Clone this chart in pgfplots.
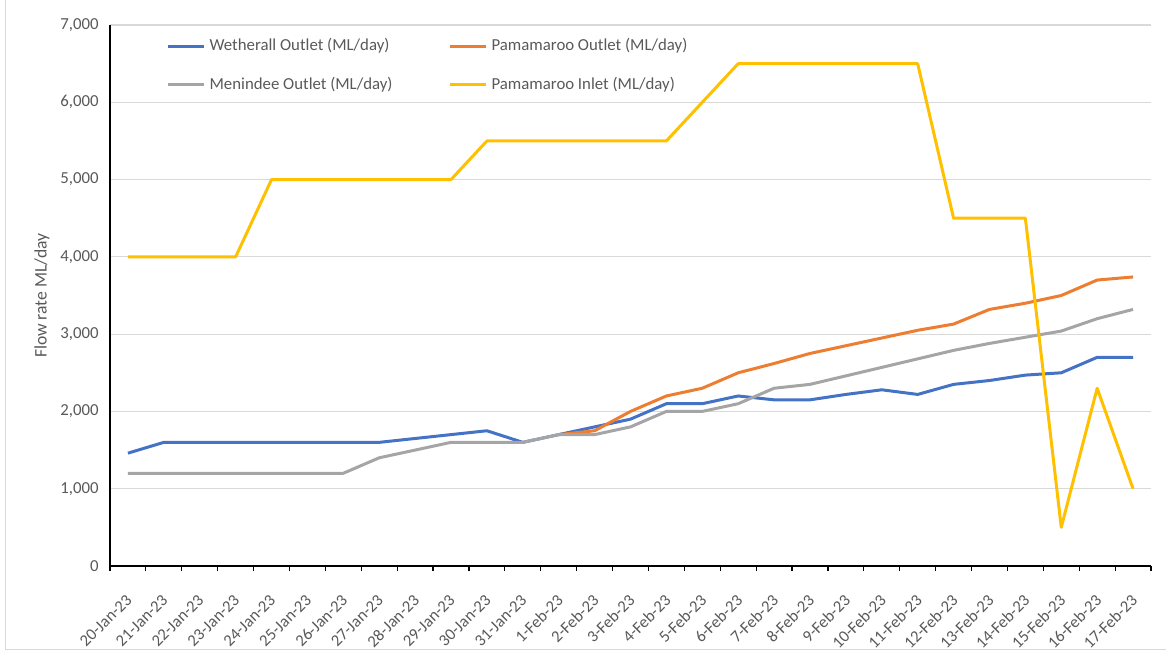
\documentclass[border=0pt]{standalone}
\usepackage{pgfplots}
\pgfplotsset{compat=1.18}
\usepackage{fontspec}
\setmainfont{Carlito}
\definecolor{cblue}{HTML}{4472C4}
\definecolor{corange}{HTML}{ED7D31}
\definecolor{cgray}{HTML}{A5A5A5}
\definecolor{cyellow}{HTML}{FFC000}
\definecolor{txt}{HTML}{595959}
\definecolor{gridc}{HTML}{D9D9D9}
\newcommand\cf{\fontsize{8.4}{10}\selectfont}
\begin{document}
\begin{tikzpicture}
\path[use as bounding box] (-55pt,-43pt) rectangle (528pt,283pt);
\draw[gridc, line width=0.6pt] (-52.3pt,283pt) -- (-52.3pt,-41.8pt) -- (528pt,-41.8pt);
\begin{axis}[
  at={(0,0)}, anchor=south west, scale only axis,
  width=520.5pt, height=270.5pt,
  xmin=-0.5, xmax=28.5, ymin=0, ymax=7000,
  axis x line=bottom, axis y line=left,
  axis line style={-, black, line width=0.6pt},
  ytick={0,1000,...,7000},
  ymajorgrids, grid style={gridc, line width=0.6pt},
  y tick style={draw=none},
  scaled y ticks=false,
  /pgf/number format/1000 sep={,},
  /pgf/number format/assume math mode=true,
  yticklabel style={text=txt, font=\cf},
  xtick={0,...,28},
  major x tick style={draw=none},
  minor xtick={-0.5,0.5,...,28.5},
  minor x tick style={black, line width=0.6pt},
  minor tick length=2.5pt,
  xtick align=outside,
  xticklabels={20-Jan-23,21-Jan-23,22-Jan-23,23-Jan-23,24-Jan-23,25-Jan-23,26-Jan-23,27-Jan-23,28-Jan-23,29-Jan-23,30-Jan-23,31-Jan-23,1-Feb-23,2-Feb-23,3-Feb-23,4-Feb-23,5-Feb-23,6-Feb-23,7-Feb-23,8-Feb-23,9-Feb-23,10-Feb-23,11-Feb-23,12-Feb-23,13-Feb-23,14-Feb-23,15-Feb-23,16-Feb-23,17-Feb-23},
  xticklabel style={rotate=45, anchor=north east, inner sep=0pt, yshift=-5.5pt, xshift=-7.5pt, text=txt, font=\fontsize{8.3}{9.5}\selectfont},
  ylabel={Flow rate ML/day},
  ylabel style={at={(axis description cs:-0.0653,0.5)}, anchor=center, text=txt, font=\fontsize{8.8}{10}\selectfont},
  legend columns=2,
  legend cell align=left,
  legend style={at={(0.054,0.983)}, anchor=north west, draw=none, fill=none, font=\cf, text=txt,
    row sep=7.5pt, inner sep=0pt,
    /tikz/every even column/.append style={column sep=26pt}},
  legend image code/.code={\draw[#1, line width=1.5pt] (0pt,0pt) -- (18pt,0pt);},
  every axis plot/.append style={line width=1.5pt, line join=round, no markers},
]
\addplot[cblue] coordinates {(0,1460)(1,1600)(2,1600)(3,1600)(4,1600)(5,1600)(6,1600)(7,1600)(8,1650)(9,1700)(10,1750)(11,1600)(12,1700)(13,1800)(14,1900)(15,2100)(16,2100)(17,2200)(18,2150)(19,2150)(20,2220)(21,2280)(22,2220)(23,2350)(24,2400)(25,2470)(26,2500)(27,2700)(28,2700)};
\addlegendentry{Wetherall Outlet (ML/day)}
\addplot[corange] coordinates {(12,1700)(13,1750)(14,2000)(15,2200)(16,2300)(17,2500)(18,2620)(19,2750)(20,2850)(21,2950)(22,3050)(23,3130)(24,3320)(25,3400)(26,3500)(27,3700)(28,3740)};
\addlegendentry{Pamamaroo Outlet (ML/day)}
\addplot[cgray] coordinates {(0,1200)(1,1200)(2,1200)(3,1200)(4,1200)(5,1200)(6,1200)(7,1400)(8,1500)(9,1600)(10,1600)(11,1600)(12,1700)(13,1700)(14,1800)(15,2000)(16,2000)(17,2100)(18,2300)(19,2350)(20,2460)(21,2570)(22,2680)(23,2790)(24,2880)(25,2960)(26,3040)(27,3200)(28,3320)};
\addlegendentry{Menindee Outlet (ML/day)}
\addplot[cyellow] coordinates {(0,4000)(1,4000)(2,4000)(3,4000)(4,5000)(5,5000)(6,5000)(7,5000)(8,5000)(9,5000)(10,5500)(11,5500)(12,5500)(13,5500)(14,5500)(15,5500)(16,6000)(17,6500)(18,6500)(19,6500)(20,6500)(21,6500)(22,6500)(23,4500)(24,4500)(25,4500)(26,500)(27,2300)(28,1000)};
\addlegendentry{Pamamaroo Inlet (ML/day)}
\end{axis}
\end{tikzpicture}
\end{document}
